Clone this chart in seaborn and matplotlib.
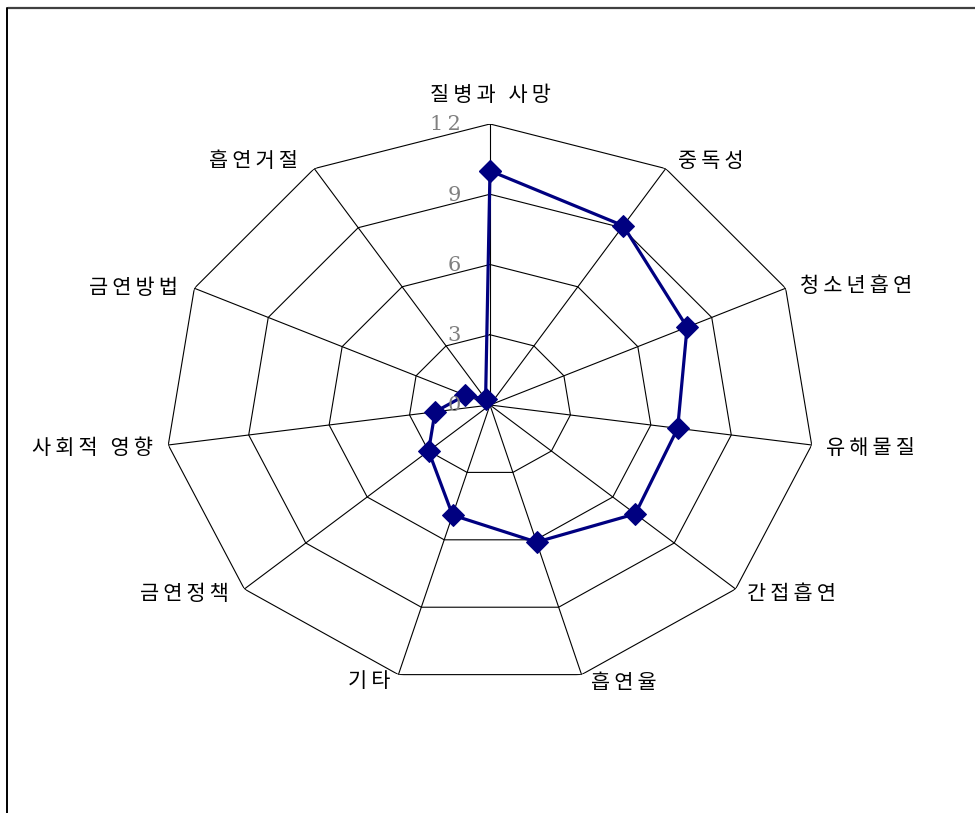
import numpy as np
import matplotlib
matplotlib.use('Agg')
import matplotlib.pyplot as plt
from matplotlib.lines import Line2D
import seaborn as sns

# 항목 및 값
categories = ['질병과 사망', '중독성', '청소년흡연', '유해물질', '간접흡연', '흡연율',
              '기타', '금연정책', '사회적 영향', '금연방법', '흡연거절']
values = [10.0, 9.1, 8.0, 7.0, 7.1, 6.1, 4.9, 3.0, 2.05, 1.0, 0.3]
rings = [3, 6, 9, 12]
tick_labels = ['0', '3', '6', '9', '12']

# 라벨 위치 (정렬, 오프셋 px)
label_align = ['center', 'left', 'left', 'left', 'left', 'left',
               'right', 'right', 'right', 'right', 'right']
label_offset = [(0, 29), (12, 8), (14, 2), (14, -3), (11, -5), (9, -8),
                (-8, -6), (-15, -5), (-15, -3), (-16, 0), (-16, 8)]

sns.set_style('white')
plt.rcParams['font.family'] = ['Noto Sans CJK KR', 'DejaVu Sans']

THIN = '\u2009'  # 자간


def spaced(s):
    return THIN.join(s)


fig = plt.figure(figsize=(9.75, 8.13), dpi=100)
# 가로로 늘어난 방사형 차트
ax = fig.add_axes([0.1692, 0.1562, 0.6667, 0.6913], projection='polar')
ax.set_aspect('auto')
ax.set_theta_zero_location('N')
ax.set_theta_direction(-1)

n = len(categories)
angles = np.linspace(0, 2 * np.pi, n, endpoint=False)
angles_closed = np.append(angles, 2 * np.pi)

# 다각형 격자
for r in rings:
    ax.plot(angles_closed, [r] * (n + 1), color='black', lw=0.8, zorder=1)
for a in angles:
    ax.plot([a, a], [0, rings[-1]], color='black', lw=0.8, zorder=1)

# 데이터
vals_closed = values + values[:1]
sns.lineplot(x=angles_closed, y=vals_closed, sort=False, ax=ax, color='#000080',
             lw=2.3, marker='D', markersize=11, markeredgecolor='#000080', zorder=3)

ax.set_ylim(0, 12)
ax.set_xticks([])
ax.set_yticks([])
ax.grid(False)
ax.spines['polar'].set_visible(False)
ax.set_xlabel('')
ax.set_ylabel('')

# 눈금 라벨
for t in tick_labels:
    ax.annotate(THIN.join(t), xy=(0, float(t)), xytext=(-29, -1),
                textcoords='offset pixels', ha='right', va='center', color='gray',
                fontsize=15, family=['DejaVu Serif'], zorder=4)

# 항목 라벨
for a, lab, al, off in zip(angles, categories, label_align, label_offset):
    ax.annotate(spaced(lab), xy=(a, rings[-1]), xytext=off, textcoords='offset pixels',
                ha=al, va='center', fontsize=15, fontweight='light', color='black',
                family=['Noto Sans CJK KR', 'DejaVu Sans'], annotation_clip=False)

# 바깥 테두리 (위, 왼쪽)
fig.add_artist(Line2D([8 / 975, 1], [1 - 8 / 813] * 2, transform=fig.transFigure,
                      color='#404040', lw=1.6))
fig.add_artist(Line2D([7 / 975] * 2, [0, 1 - 8 / 813], transform=fig.transFigure,
                      color='black', lw=1.4))

fig.savefig('out.png', dpi=100)
